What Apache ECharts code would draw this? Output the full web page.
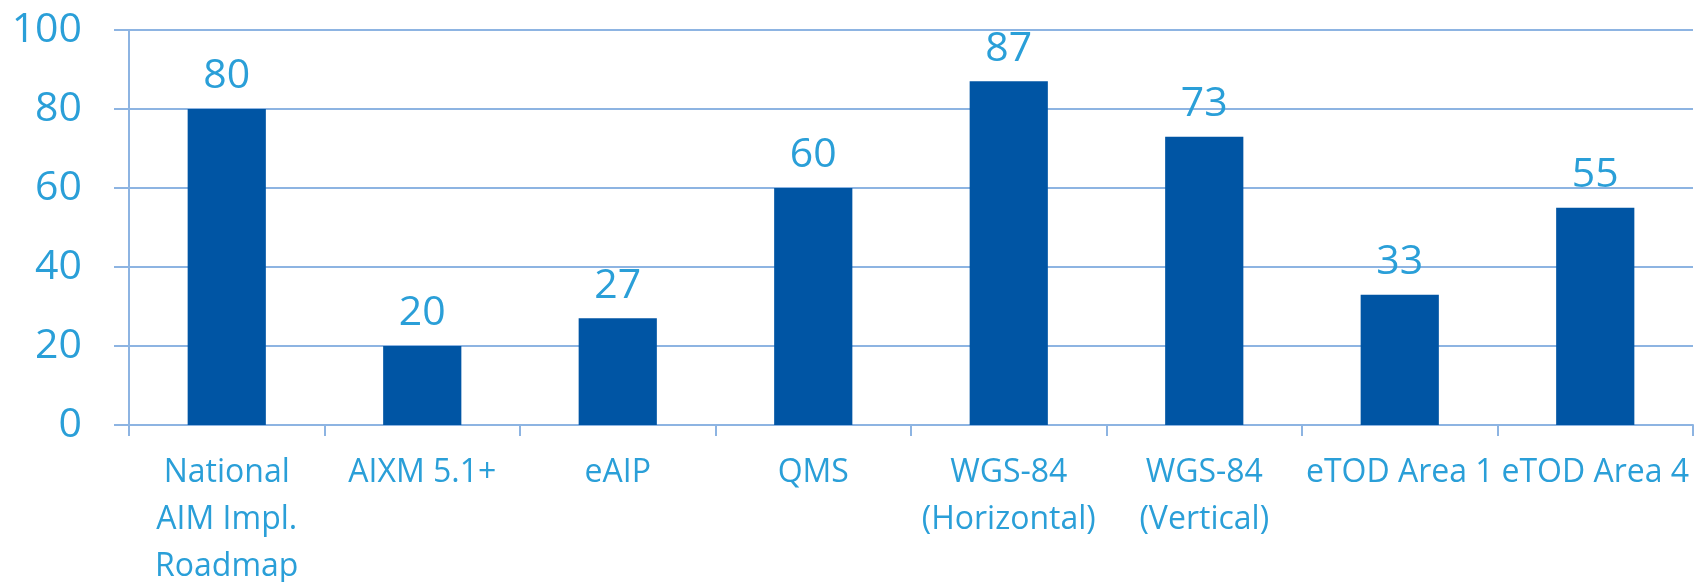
<!DOCTYPE html>
<html>
<head>
<meta charset="utf-8">
<script src="https://cdn.jsdelivr.net/npm/echarts@6/dist/echarts.min.js"></script>
<style>html,body{margin:0;padding:0;background:#fff;}#c{width:1694px;height:582px;}</style>
</head>
<body>
<div id="c"></div>
<script>
var categories = ["National\nAIM Impl.\nRoadmap", "AIXM 5.1+", "eAIP", "QMS", "WGS-84\n(Horizontal)", "WGS-84\n(Vertical)", "eTOD Area 1", "eTOD Area 4"];
var values = [80, 20, 27, 60, 87, 73, 33, 55];
var yTicks = {min: 0, max: 100, interval: 20};

var textColor = '#2A9FD8';
var lineColor = '#8DB4E2';
var barColor = '#0055A4';
var font = '"Open Sans", "Noto Sans", sans-serif';

var chart = echarts.init(document.getElementById('c'), null, {renderer: 'canvas'});
chart.setOption({
  animation: false,
  backgroundColor: '#fff',
  grid: {left: 129, right: 1, top: 30, bottom: 157, containLabel: false, outerBoundsMode: 'none'},
  xAxis: {
    type: 'category',
    data: categories,
    axisLine: {show: true, lineStyle: {color: lineColor, width: 2}},
    axisTick: {show: true, alignWithLabel: false, length: 11, lineStyle: {color: lineColor, width: 2}},
    axisLabel: {
      interval: 0, hideOverlap: false, color: textColor, fontFamily: font, fontSize: 32,
      lineHeight: 47, margin: 24
    },
    splitLine: {show: false}
  },
  yAxis: {
    type: 'value',
    min: yTicks.min, max: yTicks.max, interval: yTicks.interval,
    axisLine: {show: true, lineStyle: {color: lineColor, width: 2}},
    axisTick: {show: true, length: 15, lineStyle: {color: lineColor, width: 2}},
    axisLabel: {color: textColor, fontFamily: font, fontSize: 41, margin: 47},
    splitLine: {show: true, lineStyle: {color: lineColor, width: 2}}
  },
  series: [{
    type: 'bar',
    data: values,
    barWidth: '40%',
    itemStyle: {color: barColor},
    label: {show: true, position: 'top', distance: 12, color: textColor, fontFamily: font, fontSize: 41}
  }]
});
</script>
</body>
</html>
